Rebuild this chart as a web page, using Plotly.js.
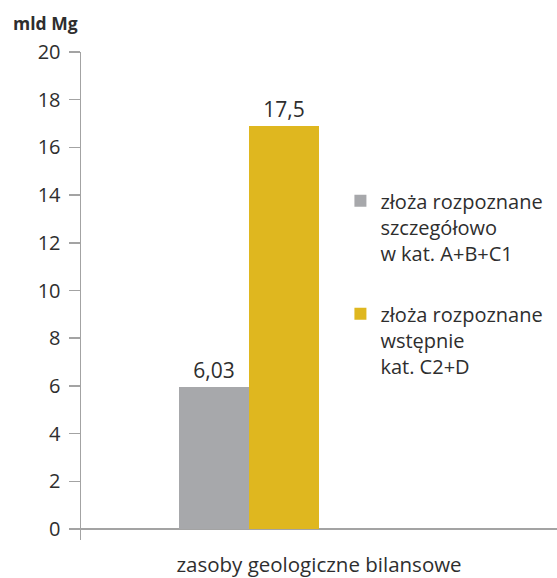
<!DOCTYPE html>
<html>
<head>
<meta charset="utf-8">
<script src="https://cdn.plot.ly/plotly-3.0.1.min.js"></script>
<style>html,body{margin:0;padding:0;background:#fff}#chart{width:557px;height:578px}</style>
</head>
<body>
<div id="chart"></div>
<script>
var category = ['zasoby geologiczne bilansowe'];
var seriesNames = ['złoża rozpoznane<br>szczegółowo<br>w kat. A+B+C1', 'złoża rozpoznane<br>wstępnie<br>kat. C2+D'];
var detailedValues = [5.95];
var detailedLabels = ['6,03'];
var preliminaryValues = [16.9];
var preliminaryLabels = ['17,5'];
var yTickValues = [0, 2, 4, 6, 8, 10, 12, 14, 16, 18, 20];
var unitLabel = 'mld Mg';

var FONT = '"Open Sans", "Noto Sans", sans-serif';
var TXT = '#2e2e2e';

var traces = [
  {
    type: 'bar', x: category, y: detailedValues, name: seriesNames[0],
    legendgroup: 'a',
    marker: {color: '#a7a8ab'},
    text: detailedLabels, textposition: 'outside', cliponaxis: false,
    textfont: {family: FONT, size: 21, color: TXT},
    hoverinfo: 'skip'
  },
  {
    type: 'bar', x: category, y: preliminaryValues, name: seriesNames[1],
    legendgroup: 'b',
    marker: {color: '#dfb71f'},
    text: preliminaryLabels, textposition: 'outside', cliponaxis: false,
    textfont: {family: FONT, size: 21, color: TXT},
    hoverinfo: 'skip'
  }
];

var layout = {
  width: 557, height: 578,
  margin: {l: 81, r: 0, t: 52, b: 38},
  paper_bgcolor: '#fff', plot_bgcolor: '#fff',
  font: {family: FONT, size: 19, color: TXT},
  barmode: 'group', bargap: 0, bargroupgap: 0,
  showlegend: true,
  legend: {
    x: 0.545, xanchor: 'left', y: 0.735, yanchor: 'top',
    bgcolor: 'rgba(0,0,0,0)', borderwidth: 0,
    font: {family: FONT, size: 20, color: TXT},
    traceorder: 'grouped', tracegroupgap: 32, valign: 'top',
    itemclick: false, itemdoubleclick: false
  },
  xaxis: {
    type: 'category', range: [-1.2, 2.2],
    showline: false, showticklabels: false, ticks: '', showgrid: false, zeroline: false,
    title: {text: category[0], font: {family: FONT, size: 20.5, color: TXT}, standoff: 22},
    fixedrange: true
  },
  yaxis: {
    range: [-0.46, 20], tickvals: yTickValues,
    showline: true, linecolor: '#a3a3a3', linewidth: 1.5,
    ticks: 'outside', ticklen: 11, tickwidth: 1.5, tickcolor: '#a3a3a3',
    ticklabelstandoff: 4,
    tickfont: {family: FONT, size: 20, color: TXT},
    showgrid: false,
    zeroline: true, zerolinecolor: '#a3a3a3', zerolinewidth: 1.5,
    fixedrange: true
  },
  annotations: [{
    text: '<b>' + unitLabel + '</b>', xref: 'paper', yref: 'paper',
    x: 0, y: 1, xanchor: 'left', yanchor: 'middle', xshift: -70, yshift: 29,
    showarrow: false, font: {family: FONT, size: 17.5, color: TXT}
  }]
};

Plotly.newPlot('chart', traces, layout, {displayModeBar: false, staticPlot: true});
</script>
</body>
</html>
